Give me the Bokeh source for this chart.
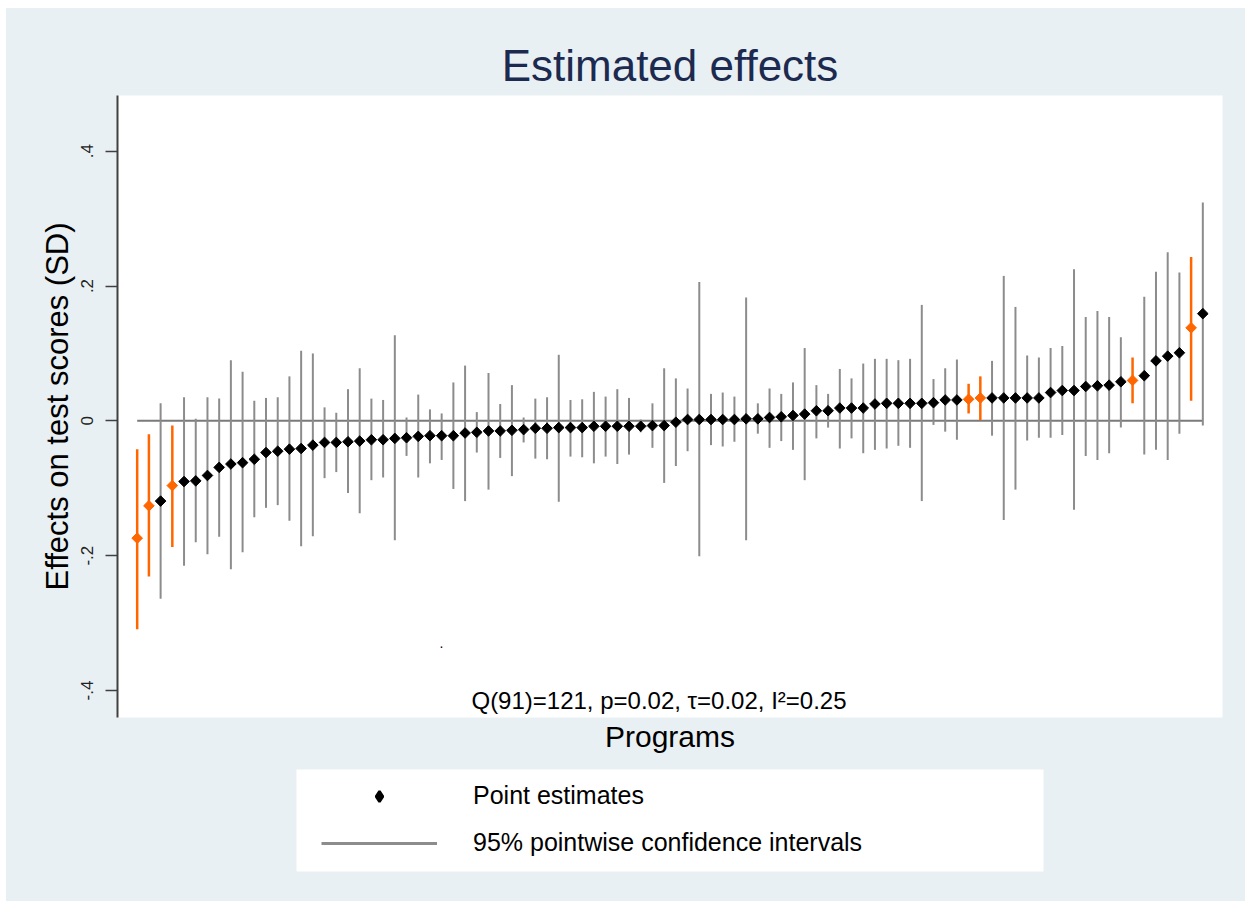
import math
from bokeh.plotting import figure
from bokeh.layouts import column
from bokeh.models import (ColumnDataSource, Label, Legend, LegendItem,
                          FixedTicker, Range1d, Title, BoxAnnotation)
from bokeh.embed import file_html
from bokeh.resources import INLINE

# ---------------- data ----------------
programs = list(range(1, 93))
estimates = [
    -0.174, -0.126, -0.119, -0.096, -0.090, -0.089, -0.081, -0.069, -0.064, -0.062,
    -0.057, -0.047, -0.045, -0.042, -0.041, -0.036, -0.032, -0.032, -0.031, -0.030,
    -0.028, -0.028, -0.026, -0.025, -0.023, -0.022, -0.022, -0.022, -0.018, -0.017,
    -0.015, -0.015, -0.014, -0.013, -0.011, -0.011, -0.010, -0.010, -0.010, -0.008,
    -0.008, -0.008, -0.008, -0.008, -0.007, -0.007, -0.002, 0.002, 0.002, 0.002,
    0.002, 0.002, 0.003, 0.003, 0.005, 0.006, 0.008, 0.010, 0.015, 0.015,
    0.019, 0.019, 0.019, 0.025, 0.026, 0.026, 0.026, 0.026, 0.027, 0.031,
    0.031, 0.032, 0.034, 0.034, 0.034, 0.034, 0.034, 0.034, 0.042, 0.045,
    0.045, 0.051, 0.052, 0.053, 0.058, 0.060, 0.067, 0.089, 0.096, 0.101,
    0.138, 0.159,
]
ci_lower = [
    -0.309, -0.231, -0.264, -0.187, -0.215, -0.180, -0.198, -0.172, -0.220, -0.195,
    -0.143, -0.129, -0.125, -0.148, -0.186, -0.171, -0.085, -0.076, -0.107, -0.137,
    -0.088, -0.084, -0.177, -0.052, -0.084, -0.063, -0.058, -0.101, -0.119, -0.047,
    -0.102, -0.055, -0.082, -0.032, -0.056, -0.057, -0.120, -0.053, -0.054, -0.063,
    -0.053, -0.064, -0.050, -0.017, -0.040, -0.092, -0.067, -0.045, -0.201, -0.036,
    -0.038, -0.031, -0.177, -0.019, -0.040, -0.030, -0.043, -0.088, -0.026, -0.010,
    -0.041, -0.026, -0.048, -0.043, -0.041, -0.037, -0.040, -0.119, -0.006, -0.016,
    -0.028, 0.011, 0.001, -0.022, -0.147, -0.102, -0.029, -0.025, -0.025, -0.021,
    -0.132, -0.052, -0.058, -0.048, -0.010, 0.026, -0.050, -0.043, -0.058, -0.019,
    0.030, -0.007,
]
ci_upper = [
    -0.042, -0.020, 0.026, -0.007, 0.035, 0.003, 0.035, 0.033, 0.090, 0.073,
    0.030, 0.034, 0.035, 0.066, 0.104, 0.100, 0.020, 0.012, 0.047, 0.078,
    0.033, 0.031, 0.127, 0.005, 0.039, 0.017, 0.011, 0.057, 0.082, 0.013,
    0.071, 0.025, 0.053, 0.005, 0.033, 0.035, 0.098, 0.031, 0.032, 0.043,
    0.036, 0.047, 0.034, 0.002, 0.026, 0.078, 0.063, 0.048, 0.206, 0.040,
    0.042, 0.036, 0.183, 0.026, 0.048, 0.040, 0.057, 0.108, 0.053, 0.040,
    0.077, 0.063, 0.085, 0.092, 0.092, 0.090, 0.092, 0.172, 0.062, 0.078,
    0.091, 0.055, 0.066, 0.089, 0.215, 0.169, 0.097, 0.094, 0.108, 0.111,
    0.225, 0.154, 0.163, 0.154, 0.124, 0.094, 0.184, 0.221, 0.250, 0.220,
    0.243, 0.324,
]
highlighted_programs = [1, 2, 4, 72, 73, 86, 91]

y_ticks = [-0.4, -0.2, 0.0, 0.2, 0.4]
y_tick_labels = ["-.4", "-.2", "0", ".2", ".4"]

title_text = "Estimated effects"
y_label_text = "Effects on test scores (SD)"
x_label_text = "Programs"
stat_text = "Q(91)=121, p=0.02, \u03c4=0.02, I\u00b2=0.25"
legend_labels = ["Point estimates", "95% pointwise confidence intervals"]

# ---------------- sources ----------------
def subset(keep):
    d = dict(x=[], est=[], lo=[], hi=[])
    for pr, e, lo, hi in zip(programs, estimates, ci_lower, ci_upper):
        if (pr in highlighted_programs) == keep:
            d["x"].append(pr); d["est"].append(e); d["lo"].append(lo); d["hi"].append(hi)
    return ColumnDataSource(d)

src_gray = subset(False)
src_orange = subset(True)

FONT = "Liberation Sans"
GRAY = "#8c8c8c"
ORANGE = "#ff6600"
BG = "#e9f0f3"

# ---------------- main chart ----------------
p = figure(width=1239, height=752,
           x_range=Range1d(-0.682, 93.68), y_range=Range1d(-0.44, 0.4826),
           output_backend="svg", toolbar_location=None,
           min_border_left=111, min_border_right=23,
           min_border_top=87, min_border_bottom=43)
p.background_fill_color = "white"
p.border_fill_color = BG
p.outline_line_color = None
p.xgrid.visible = False
p.ygrid.visible = False
p.xaxis.visible = False

p.title.text = title_text
p.title.align = "center"
p.title.text_font = FONT
p.title.text_font_size = "44px"
p.title.text_font_style = "normal"
p.title.text_color = "#1c2a50"
p.title.standoff = 11

yax = p.yaxis[0]
yax.ticker = FixedTicker(ticks=y_ticks)
yax.major_label_overrides = {t: l for t, l in zip(y_ticks, y_tick_labels)}
yax.major_label_orientation = "vertical"
yax.axis_line_color = "#404040"
yax.axis_line_width = 2
yax.major_tick_line_color = "#404040"
yax.major_tick_line_width = 1.5
yax.major_tick_out = 12
yax.major_tick_in = 0
yax.minor_tick_line_color = None
yax.major_label_standoff = 12
yax.major_label_text_font = FONT
yax.major_label_text_font_size = "17px"
yax.major_label_text_color = "#222222"
yax.axis_label = y_label_text
yax.axis_label_text_font = FONT
yax.axis_label_text_font_size = "31px"
yax.axis_label_text_font_style = "normal"
yax.axis_label_text_color = "black"
yax.axis_label_standoff = 4

x_title = Title(text=x_label_text, align="center", text_font=FONT,
                text_font_size="30px", text_font_style="normal",
                text_color="black", standoff=0)
p.add_layout(x_title, "below")

# zero reference line across the programs
p.segment(x0=[programs[0]], y0=[0], x1=[programs[-1]], y1=[0],
          line_color="#7a7a7a", line_width=2)
# confidence intervals
p.segment(x0="x", y0="lo", x1="x", y1="hi", source=src_gray,
          line_color=GRAY, line_width=2)
p.segment(x0="x", y0="lo", x1="x", y1="hi", source=src_orange,
          line_color=ORANGE, line_width=2.5)
# point estimates
p.scatter("x", "est", source=src_gray, marker="square", angle=math.pi / 4,
          size=7.5, color="black")
p.scatter("x", "est", source=src_orange, marker="square", angle=math.pi / 4,
          size=7.5, color=ORANGE)

def add_label(fig, x, y, text, size, color="black"):
    fig.add_layout(Label(x=x, y=y, x_units="screen", y_units="screen", text=text,
                         text_align="center", text_baseline="alphabetic",
                         text_font=FONT, text_font_size=size, text_color=color))

add_label(p, 541.5, 17, stat_text, "24px")
add_label(p, 324, 75, ".", "14px")

# ---------------- legend strip ----------------
q = figure(width=1239, height=141, x_range=Range1d(1000, 1001),
           y_range=Range1d(1000, 1001), output_backend="svg",
           toolbar_location=None, min_border=0,
           x_axis_type=None, y_axis_type=None)
q.background_fill_alpha = 0
q.border_fill_color = BG
q.outline_line_color = None
q.xgrid.visible = False
q.ygrid.visible = False

# white legend box
q.add_layout(BoxAnnotation(left=179, right=926, bottom=30, top=132,
                           left_units="screen", right_units="screen",
                           bottom_units="screen", top_units="screen",
                           fill_color="white", fill_alpha=1.0, line_color=None))

# renderers whose data lies outside this strip's view; used only for legend glyphs
leg_pt = q.scatter("x", "est", source=src_gray, marker="diamond", size=10,
                   fill_color="black", line_color="black", line_width=2.5)
leg_ln = q.segment(x0="x", y0="lo", x1="x", y1="hi", source=src_gray,
                   line_color=GRAY, line_width=3)

legend = Legend(items=[LegendItem(label=legend_labels[0], renderers=[leg_pt]),
                       LegendItem(label=legend_labels[1], renderers=[leg_ln])],
                location=(204, 44), orientation="vertical",
                padding=0, spacing=18, margin=0,
                glyph_width=116, glyph_height=26, label_height=26,
                label_width=400, label_standoff=36,
                border_line_color=None, background_fill_alpha=0.0,
                label_text_font=FONT, label_text_font_size="25px",
                label_text_color="black")
q.add_layout(legend, "center")

layout = column(p, q, spacing=0)
layout.margin = (8, 0, 0, 6)
layout.styles = {"background-color": BG}

open("out.html", "w").write(file_html(layout, INLINE))
